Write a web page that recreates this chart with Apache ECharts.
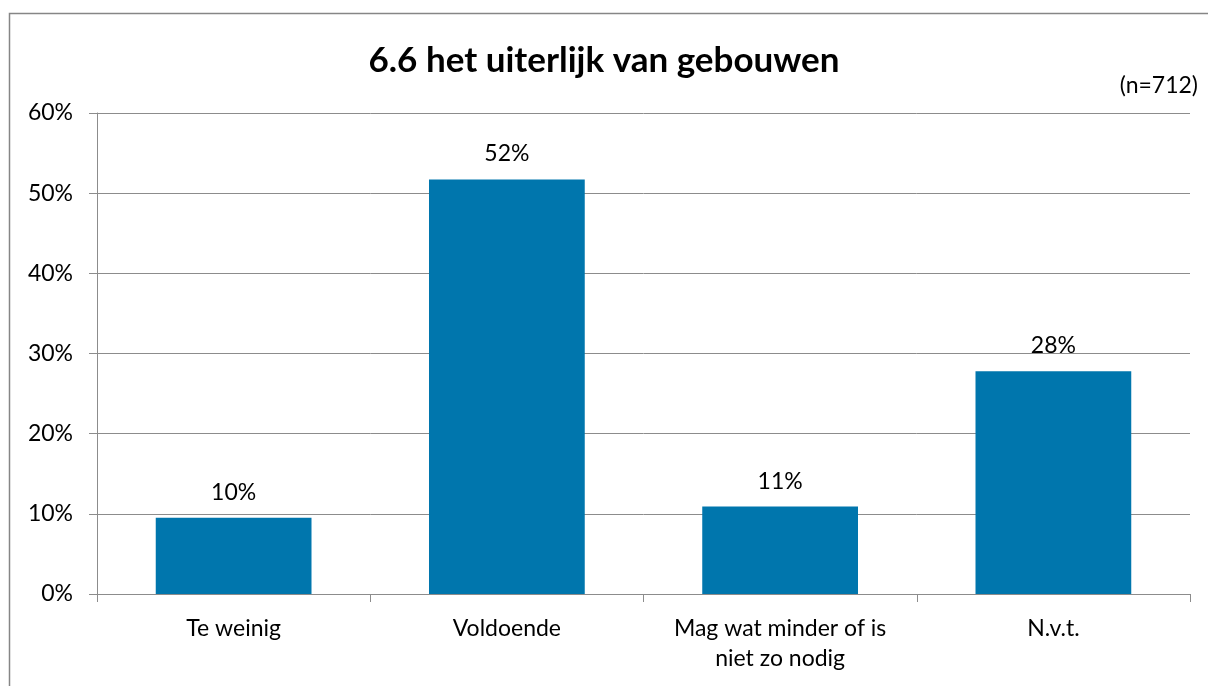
<!DOCTYPE html>
<html>
<head>
<meta charset="utf-8">
<script src="https://cdn.jsdelivr.net/npm/echarts@6/dist/echarts.min.js"></script>
<style>
    html, body { margin: 0; padding: 0; background: #fff; }
    #chart { width: 1208px; height: 686px; }
</style>
</head>
<body>
<div id="chart"></div>
<script>
// data
const categories = ['Te weinig', 'Voldoende', 'Mag wat minder of is\nniet zo nodig', 'N.v.t.'];
const values = [9.5, 51.7, 10.9, 27.8];
const yTicks = [0, 10, 20, 30, 40, 50, 60];

const chart = echarts.init(document.getElementById('chart'));
const font = 'Lato, "Open Sans", sans-serif';
const grey = '#8c8c8c';

const option = {
    animation: false,
    textStyle: { fontFamily: font },
    graphic: [{
        type: 'rect',
        shape: { x: 9.5, y: 13.5, width: 1260, height: 720 },
        style: { fill: 'none', stroke: '#868686', lineWidth: 1.5 },
        silent: true
    }, {
        type: 'text',
        right: 10,
        top: 74,
        style: { text: '(n=712)', font: '23px ' + font, fill: '#000' }
    }],
    title: {
        text: '6.6 het uiterlijk van gebouwen',
        left: 'center',
        top: 38,
        textStyle: { fontFamily: font, fontSize: 35, fontWeight: 'bold', color: '#000' }
    },
    grid: { left: 97, right: 18, top: 113, bottom: 92 },
    xAxis: {
        type: 'category',
        data: categories,
        axisLine: { lineStyle: { color: grey, width: 1 } },
        axisTick: { show: true, length: 8, lineStyle: { color: grey } },
        axisLabel: { color: '#000', fontSize: 23, lineHeight: 30, margin: 20, interval: 0, fontFamily: font }
    },
    yAxis: {
        type: 'value',
        min: yTicks[0],
        max: yTicks[yTicks.length - 1],
        interval: 10,
        axisLine: { show: true, lineStyle: { color: grey, width: 1 } },
        axisTick: { show: true, length: 8, lineStyle: { color: grey } },
        splitLine: { lineStyle: { color: grey, width: 1 } },
        axisLabel: { color: '#000', fontSize: 23, margin: 24, fontFamily: font, formatter: '{value}%' }
    },
    series: [{
        type: 'bar',
        data: values,
        barWidth: '57%',
        itemStyle: { color: '#0076ad' },
        label: {
            show: true,
            position: 'top',
            distance: 14,
            color: '#000',
            fontSize: 23,
            fontFamily: font,
            formatter: p => Math.round(p.value) + '%'
        }
    }]
};
chart.setOption(option);
</script>
</body>
</html>
